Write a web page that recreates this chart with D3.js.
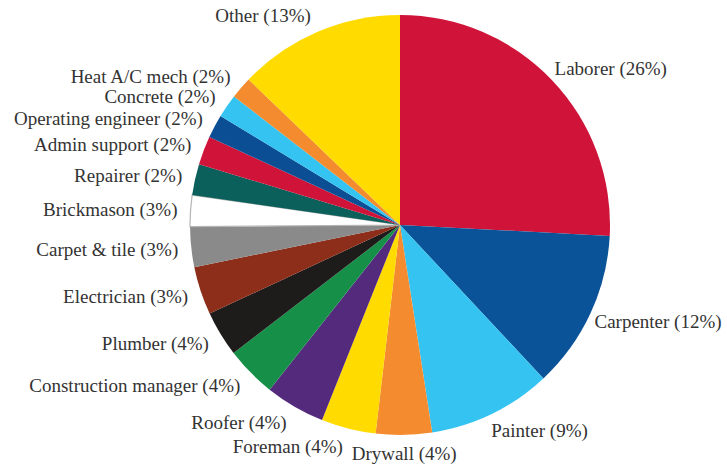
<!DOCTYPE html>
<html>
<head>
<meta charset="utf-8">
<script src="https://cdn.jsdelivr.net/npm/d3@7"></script>
<style>
  html, body { margin: 0; padding: 0; background: #fff; }
  svg { display: block; }
</style>
</head>
<body>
<svg id="chart" width="727" height="470"></svg>
<script>
// ---- data ----
const categories = ["Laborer", "Carpenter", "Painter", "Drywall", "Foreman", "Roofer",
  "Construction manager", "Plumber", "Electrician", "Carpet & tile", "Brickmason",
  "Repairer", "Admin support", "Operating engineer", "Concrete", "Heat A/C mech", "Other"];
const shares = [25.8, 12.2, 9.5, 4.3, 4.2, 4.6, 3.9, 3.5, 3.7, 3.1, 2.4, 2.4, 2.2, 1.8, 1.8, 1.7, 12.8];
const pctLabels = ["26%", "12%", "9%", "4%", "4%", "4%", "4%", "4%", "3%", "3%", "3%",
  "2%", "2%", "2%", "2%", "2%", "13%"];
const colors = ["#CF1339", "#0A5398", "#35C4F1", "#F58B2F", "#FFDB00", "#542A7D",
  "#169048", "#1E1B1B", "#8C2E19", "#8A8A8A", "#FFFFFF", "#0C605B", "#CF1339",
  "#0B4E94", "#35C4F1", "#F58B2F", "#FFDB00"];

// ---- layout ----
const svg = d3.select("#chart");
const cx = 400, cy = 225, R = 210, labelR = 220;

const data = categories.map((c, i) => ({ name: c, value: shares[i], pct: pctLabels[i], color: colors[i] }));

const pie = d3.pie().value(d => d.value).sort(null);
const arcs = pie(data);
const arc = d3.arc().innerRadius(0).outerRadius(R);

const g = svg.append("g").attr("transform", `translate(${cx},${cy})`);

g.selectAll("path.slice")
  .data(arcs)
  .enter().append("path")
  .attr("class", "slice")
  .attr("d", arc)
  .attr("fill", d => d.data.color)
  .attr("stroke", d => d.data.color.toUpperCase() === "#FFFFFF" ? "#b5b5b5" : "none")
  .attr("stroke-width", 1.2);

g.selectAll("text.lbl")
  .data(arcs)
  .enter().append("text")
  .attr("class", "lbl")
  .each(function(d) {
    const a = (d.startAngle + d.endAngle) / 2;
    const s = Math.sin(a), c = Math.cos(a);
    const x = labelR * s;
    const y = -labelR * c - c * 8;
    const anchor = s > 0.05 ? "start" : (s < -0.05 ? "end" : "middle");
    const gap = anchor === "start" ? -5 : (anchor === "end" ? -3 : 0);
    d3.select(this)
      .attr("x", x + gap)
      .attr("y", y)
      .attr("dy", "0.35em")
      .attr("text-anchor", anchor);
  })
  .text(d => `${d.data.name} (${d.data.pct})`)
  .attr("font-family", "'Liberation Serif', 'Times New Roman', serif")
  .attr("font-size", 19)
  .attr("fill", "#333");
</script>
</body>
</html>
